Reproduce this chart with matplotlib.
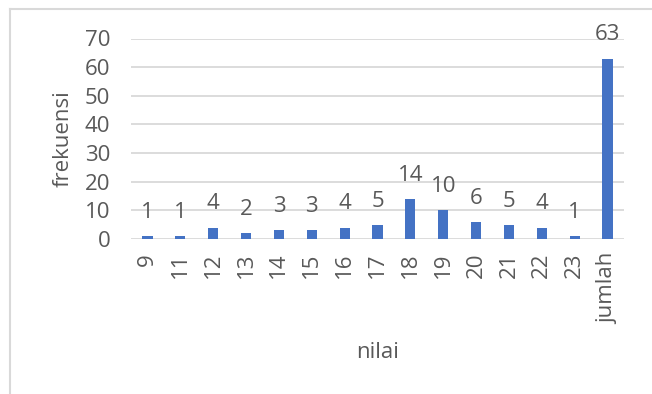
import matplotlib.pyplot as plt
from matplotlib.lines import Line2D

nilai = ['9', '11', '12', '13', '14', '15', '16', '17', '18', '19',
         '20', '21', '22', '23', 'jumlah']
frekuensi = [1, 1, 4, 2, 3, 3, 4, 5, 14, 10, 6, 5, 4, 1, 63]

plt.rcParams['font.family'] = ['Open Sans', 'DejaVu Sans']
grey = '#595959'
fs = 16

fig = plt.figure(figsize=(6.52, 3.94), dpi=100)
ax = fig.add_axes([131 / 652, 1 - 239 / 394, 493 / 652, 200.5 / 394])

x = range(len(nilai))
bars = ax.bar(x, frekuensi, width=0.31, color='#4472C4', zorder=3)
for xi, v in zip(x, frekuensi):
    ax.annotate(str(v), (xi, v), xytext=(0, 17), textcoords='offset points',
                ha='center', va='center', color=grey, fontsize=fs, zorder=4)

ax.set_xlim(-0.5, len(nilai) - 0.5)
ax.set_ylim(0, 70)
ax.set_yticks(range(0, 71, 10))
ax.set_xticks(list(x))
ax.set_xticklabels(nilai, rotation=90)
ax.tick_params(axis='both', length=0, colors=grey, labelsize=fs)
ax.tick_params(axis='y', pad=15)
ax.tick_params(axis='x', pad=10)
ax.grid(axis='y', color='#D9D9D9', linewidth=1.3, zorder=0)
for s in ax.spines.values():
    s.set_visible(False)

ax.set_ylabel('frekuensi', color=grey, fontsize=fs, labelpad=8)
ax.set_xlabel('nilai', color=grey, fontsize=fs, labelpad=13)

# chart area border (left and top edges)
fig.add_artist(Line2D([10 / 652, 10 / 652], [0, 1 - 9 / 394],
                      transform=fig.transFigure, color='#D9D9D9', lw=1.5))
fig.add_artist(Line2D([10 / 652, 1], [1 - 9 / 394, 1 - 9 / 394],
                      transform=fig.transFigure, color='#D9D9D9', lw=1.5))

fig.savefig('out.png', dpi=100)
